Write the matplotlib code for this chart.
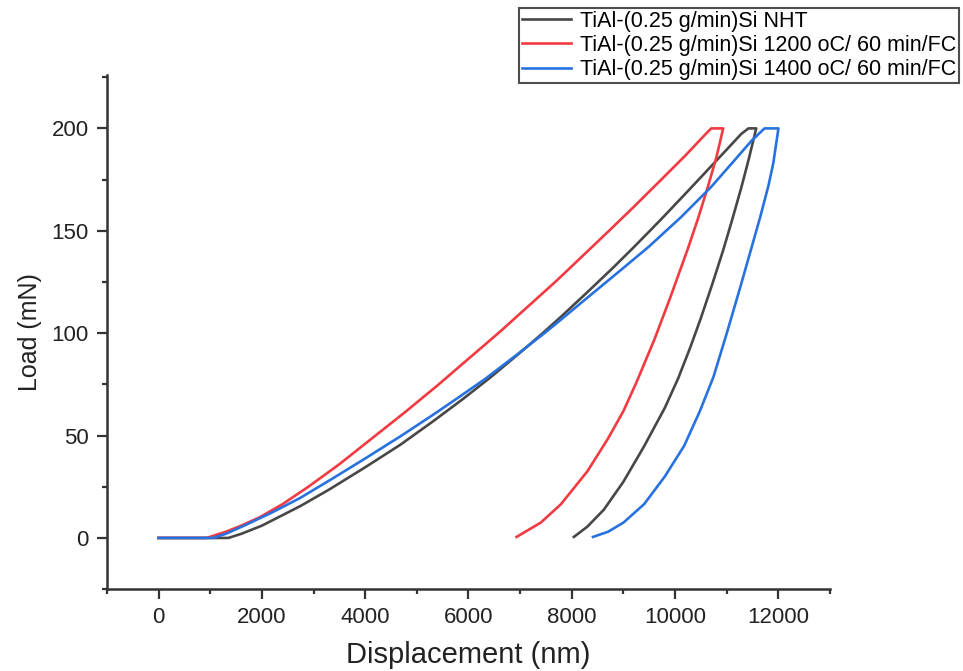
import matplotlib
matplotlib.use('Agg')
import matplotlib.pyplot as plt
from matplotlib.ticker import MultipleLocator

plt.rcParams['font.family'] = ['Liberation Sans', 'DejaVu Sans']

# Load-displacement curves (nm, mN): loading, hold, unloading
nht_x = [0, 1350, 1600, 2000, 2740, 3300, 4000, 4680, 5300, 5900, 6430, 7000, 7450, 7790,
         8300, 8800, 9200, 9520, 9800, 10150, 10500, 10900, 11280, 11420,
         11570, 11420, 11280, 11100, 10930, 10720, 10500, 10300, 10060, 9800, 9400,
         9000, 8620, 8300, 8040]
nht_y = [0, 0, 2, 6, 15.5, 23.6, 34.5, 45.5, 56.7, 68, 78.5, 90.5, 100.3, 108,
         120, 132, 142, 150.2, 157.5, 166.8, 176.2, 187, 197.3, 200,
         200, 184.5, 171, 155, 140.5, 124, 107.5, 93.5, 78, 63.5, 44.8,
         27.5, 13.8, 5.5, 0.5]

t1200_x = [0, 930, 1300, 1600, 1950, 2400, 2900, 3500, 4150, 4800, 5400, 6000, 6600, 7150,
           7700, 8200, 8700, 9200, 9700, 10200, 10600, 10700,
           10930, 10800, 10640, 10450, 10250, 9900, 9600, 9260, 9000, 8700, 8300,
           7790, 7400, 6930]
t1200_y = [0, 0, 3, 6, 10, 16.5, 25, 36, 49, 62, 74.5, 87.5, 100.5, 113,
           125.5, 137.5, 149.5, 161.7, 174.2, 186.8, 197.5, 200,
           200, 186, 172, 156.5, 141.5, 117, 97, 76.5, 62, 48.5, 32.5,
           16.5, 7.5, 0.5]

t1400_x = [0, 1050, 1300, 1700, 2200, 2740, 3400, 4000, 4680, 5300, 5800, 6330, 6900, 7500,
           7790, 8300, 8900, 9480, 10120, 10700, 11100, 11480, 11730,
           12000, 11900, 11806, 11650, 11476, 11250, 11000, 10740, 10480, 10175, 9800,
           9400, 9000, 8700, 8410]
t1400_y = [0, 0, 2, 6.5, 12.5, 19.5, 29.5, 38.8, 49.6, 59.9, 68.5, 77.8, 88.8, 100.6,
           106.6, 117.3, 129.8, 142, 156.8, 171.5, 183, 194, 200,
           200, 183, 172, 157, 141.5, 121.5, 100, 78.5, 62, 45, 30,
           16.5, 7.5, 3, 0.5]

labels = ['TiAl-(0.25 g/min)Si NHT',
          'TiAl-(0.25 g/min)Si 1200 oC/ 60 min/FC',
          'TiAl-(0.25 g/min)Si 1400 oC/ 60 min/FC']
colors = ['#474747', '#f23a42', '#2872e0']

fig = plt.figure(figsize=(9.63, 6.71), dpi=100)
ax = fig.add_axes([0.111, 0.122, 0.751, 0.766])

for xs, ys, lab, c in zip([nht_x, t1200_x, t1400_x], [nht_y, t1200_y, t1400_y], labels, colors):
    ax.plot(xs, ys, color=c, lw=1.9, label=lab, solid_joinstyle='round')

ax.set_xlim(-1000, 13000)
ax.set_ylim(-25, 226)
ax.xaxis.set_major_locator(MultipleLocator(2000))
ax.xaxis.set_minor_locator(MultipleLocator(1000))
ax.yaxis.set_major_locator(MultipleLocator(50))
ax.yaxis.set_minor_locator(MultipleLocator(25))

for s in ['top', 'right']:
    ax.spines[s].set_visible(False)
for s in ['left', 'bottom']:
    ax.spines[s].set_linewidth(1.8)
    ax.spines[s].set_color('#333333')

ax.tick_params(which='major', direction='out', length=7, width=1.6, color='#333333',
               labelsize=16, labelcolor='#222222', pad=6)
ax.tick_params(which='minor', direction='out', length=3.5, width=1.6, color='#333333')

ax.set_xlabel('Displacement (nm)', fontsize=21, color='#222222', labelpad=9)
ax.set_ylabel('Load (mN)', fontsize=18, color='#222222', labelpad=7)

leg = fig.legend(loc='upper left', bbox_to_anchor=(519 / 963, 1 - 8 / 671),
                 fontsize=15.5, frameon=True, fancybox=False, handlelength=2.3,
                 borderpad=0.12, labelspacing=0.15, handletextpad=0.4,
                 borderaxespad=0)
leg.get_frame().set_edgecolor('#222222')
leg.get_frame().set_linewidth(1.5)

fig.savefig('out.png', dpi=100)
